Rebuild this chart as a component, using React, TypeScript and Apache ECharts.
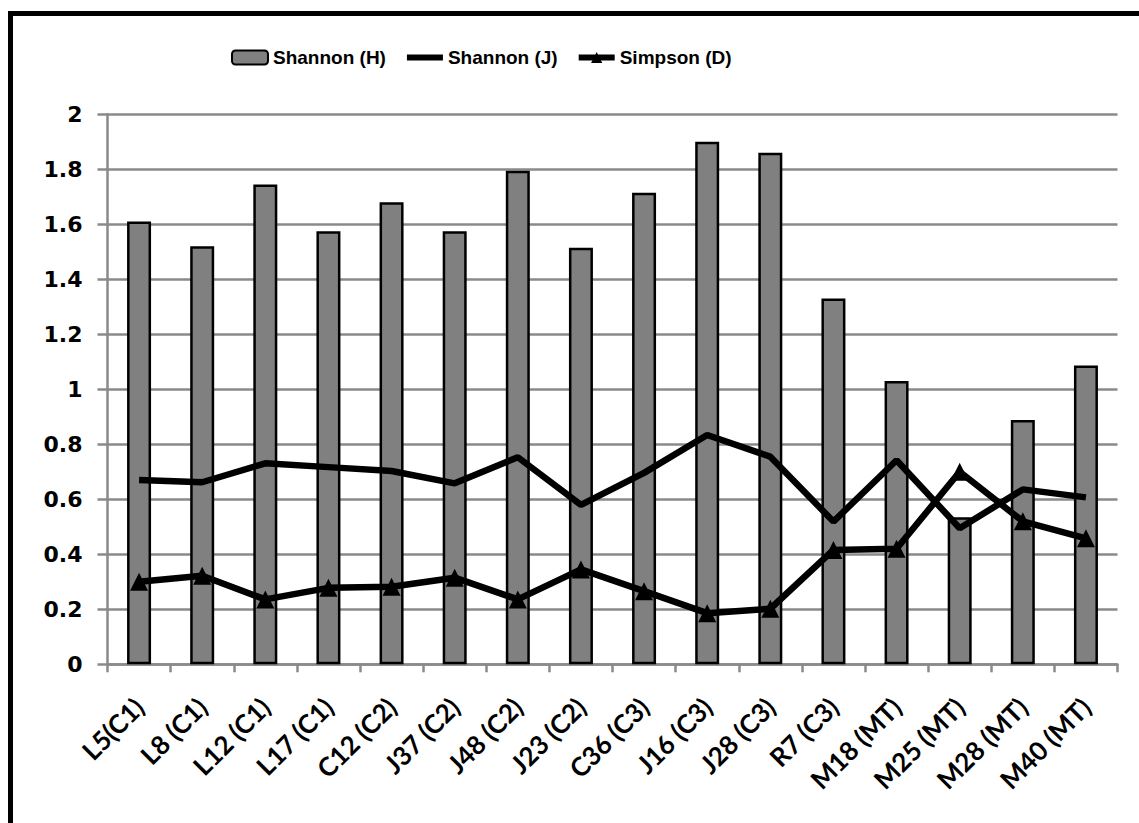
import React, { useEffect, useRef } from "react";
import * as echarts from "echarts";

// Sampling sites (site code and zone)
const sites = [
  "L5(C1)", "L8 (C1)", "L12 (C1)", "L17 (C1)", "C12 (C2)", "J37 (C2)",
  "J48 (C2)", "J23 (C2)", "C36 (C3)", "J16 (C3)", "J28 (C3)", "R7 (C3)",
  "M18 (MT)", "M25 (MT)", "M28 (MT)", "M40 (MT)",
];

// Shannon diversity index H
const shannonH = [
  1.61, 1.52, 1.745, 1.575, 1.68, 1.575, 1.795, 1.515,
  1.715, 1.9, 1.86, 1.33, 1.03, 0.535, 0.888, 1.087,
];

// Shannon evenness J
const shannonJ = [
  0.67, 0.662, 0.731, 0.717, 0.703, 0.658, 0.753, 0.58,
  0.696, 0.834, 0.755, 0.519, 0.742, 0.495, 0.636, 0.607,
];

// Simpson dominance D
const simpsonD = [
  0.30, 0.322, 0.236, 0.278, 0.282, 0.315, 0.236, 0.345,
  0.266, 0.186, 0.202, 0.416, 0.42, 0.70, 0.52, 0.458,
];

const legendNames = ["Shannon (H)", "Shannon (J)", "Simpson (D)"];

export default function App() {
  const ref = useRef<HTMLDivElement>(null);

  useEffect(() => {
    if (!ref.current) return;
    const chart = echarts.init(ref.current, undefined, { renderer: "svg" });
    const gridColor = "#8a8a8a";
    chart.setOption({
      animation: false,
      backgroundColor: "#ffffff",
      graphic: [
        {
          type: "rect",
          shape: { x: 10.5, y: 13.5, width: 1300, height: 1000 },
          style: { fill: "none", stroke: "#000", lineWidth: 5 },
          silent: true,
          z: 100,
        },
      ],
      legend: {
        left: 226,
        top: 43,
        itemWidth: 36,
        itemHeight: 14,
        itemGap: 18,
        data: [
          { name: legendNames[0] },
          { name: legendNames[1], itemStyle: { opacity: 0 }, lineStyle: { width: 6 } },
          { name: legendNames[2], lineStyle: { width: 6 } },
        ],
        textStyle: {
          fontFamily: "'Liberation Sans', Arial, sans-serif",
          fontWeight: "bold",
          fontSize: 19,
          color: "#000",
        },
      },
      grid: { left: 107.5, right: 21.5, top: 114.3, bottom: 158.7 },
      xAxis: {
        type: "category",
        data: sites,
        axisLine: { lineStyle: { color: gridColor, width: 2.5 } },
        axisTick: { show: true, length: 8, lineStyle: { color: gridColor, width: 2.5 } },
        axisLabel: {
          interval: 0,
          rotate: 45,
          margin: 38,
          fontFamily: "Lato, 'Open Sans', sans-serif",
          fontWeight: "bold",
          fontSize: 26,
          color: "#000",
        },
      },
      yAxis: {
        type: "value",
        min: 0,
        max: 2,
        interval: 0.2,
        axisLine: { show: true, lineStyle: { color: gridColor, width: 2.5 } },
        axisTick: { show: true, length: 10, lineStyle: { color: gridColor, width: 2.5 } },
        splitLine: { lineStyle: { color: gridColor, width: 2.5 } },
        axisLabel: {
          margin: 25,
          fontFamily: "'DejaVu Sans', sans-serif",
          fontWeight: "bold",
          fontSize: 22,
          color: "#000",
          formatter: (v: number) => String(Math.round(v * 10) / 10),
        },
      },
      series: [
        {
          name: legendNames[0],
          type: "bar",
          data: shannonH,
          barWidth: "38%",
          itemStyle: { color: "#808080", borderColor: "#000", borderWidth: 2.5 },
        },
        {
          name: legendNames[1],
          type: "line",
          data: shannonJ,
          symbol: "none",
          lineStyle: { color: "#000", width: 6.5 },
          itemStyle: { color: "#000" },
        },
        {
          name: legendNames[2],
          type: "line",
          data: simpsonD,
          symbol: "triangle",
          symbolSize: 18,
          lineStyle: { color: "#000", width: 6.5 },
          itemStyle: { color: "#000" },
        },
      ],
    });
    return () => chart.dispose();
  }, []);

  return (
    <div
      ref={ref}
      style={{ position: "fixed", left: 0, top: 0, width: 1139, height: 823 }}
    />
  );
}
